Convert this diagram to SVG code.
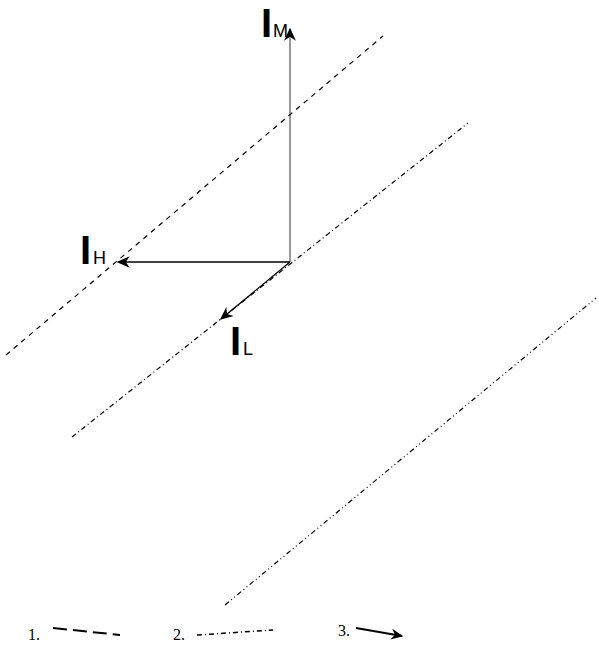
<svg xmlns="http://www.w3.org/2000/svg" width="599" height="645" viewBox="0 0 599 645">
<defs>
<marker id="ah" viewBox="0 0 10 10" refX="9" refY="5" markerWidth="13" markerHeight="13" markerUnits="userSpaceOnUse" orient="auto"><path d="M0,0.5 L10,5 L0,9.5 L3,5 z" fill="#000"/></marker>
<marker id="ah2" viewBox="0 0 10 10" refX="9" refY="5" markerWidth="12" markerHeight="12" markerUnits="userSpaceOnUse" orient="auto"><path d="M0,0.5 L10,5 L0,9.5 L3,5 z" fill="#000"/></marker>
</defs>
<style>
.l1{stroke:#000;stroke-width:1.2;stroke-dasharray:5,5;fill:none}
.l2{stroke:#000;stroke-width:1.2;stroke-dasharray:5,3,1,3;fill:none}
.l3{stroke:#000;stroke-width:1.2;stroke-dasharray:5,3,1,3,1,3;fill:none}
.ar{stroke:#000;stroke-width:1.3;fill:none;marker-end:url(#ah)}
.big{font-family:"Liberation Sans",Arial,sans-serif;font-size:40px;font-weight:bold;fill:#000}
.sub{font-family:"Liberation Sans",Arial,sans-serif;font-size:18px;fill:#000}
.leg{font-family:"Liberation Serif","Times New Roman",serif;font-size:16px;fill:#000}
</style>
<g id="lines">
<line class="l1" x1="6" y1="355" x2="383" y2="36"/>
<line class="l2" x1="72" y1="437" x2="468" y2="123"/>
<line class="l3" x1="225" y1="605" x2="596" y2="298"/>
</g>
<g id="connectors">
<line class="ar" x1="290" y1="262" x2="290" y2="29" style="stroke-width:1;stroke:#333"/>
<line class="ar" x1="290" y1="262" x2="118" y2="262"/>
<line class="ar" x1="290" y1="262" x2="221" y2="319"/>
</g>
<g id="label-IM"><text class="big" x="261" y="37">I</text><text class="sub" x="273" y="37">M</text></g>
<g id="label-IH"><text class="big" x="80" y="264">I</text><text class="sub" x="93" y="264">H</text></g>
<g id="label-IL"><text class="big" x="230" y="355">I</text><text class="sub" x="243" y="355">L</text></g>
<g id="legend">
<text class="leg" x="28" y="640">1.</text>
<line class="l1" x1="53" y1="628" x2="120" y2="635" style="stroke-width:2;stroke-dasharray:14,6"/>
<text class="leg" x="173" y="640">2.</text>
<line class="l2" x1="197" y1="635" x2="273" y2="630" style="stroke-width:1.5"/>
<text class="leg" x="338" y="636">3.</text>
<line class="ar" x1="356" y1="628" x2="402" y2="636" style="stroke-width:2;marker-end:url(#ah2)"/>
</g>
</svg>
